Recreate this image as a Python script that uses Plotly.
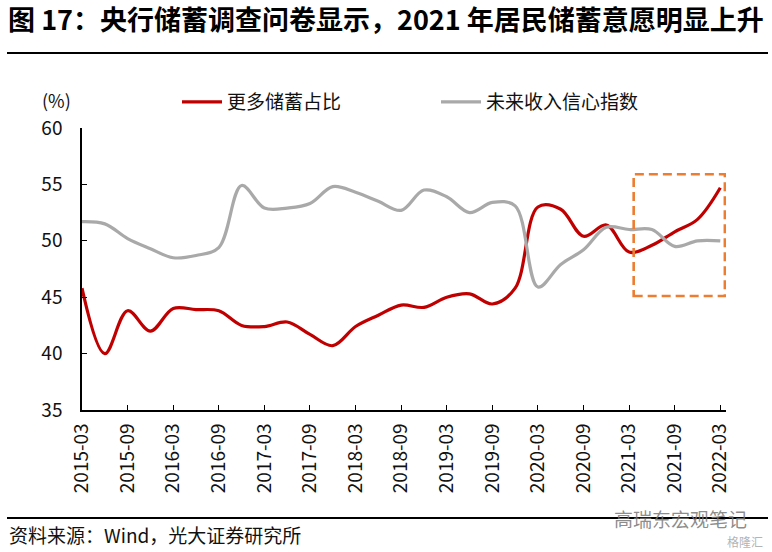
import plotly.graph_objects as go

# ---- data ----
quarters = ["2015-03", "2015-06", "2015-09", "2015-12",
            "2016-03", "2016-06", "2016-09", "2016-12",
            "2017-03", "2017-06", "2017-09", "2017-12",
            "2018-03", "2018-06", "2018-09", "2018-12",
            "2019-03", "2019-06", "2019-09", "2019-12",
            "2020-03", "2020-06", "2020-09", "2020-12",
            "2021-03", "2021-06", "2021-09", "2021-12",
            "2022-03"]
more_saving = [45.8, 40.0, 43.8, 42.0, 44.0, 43.9, 43.8, 42.5, 42.4, 42.8,
               41.7, 40.7, 42.4, 43.4, 44.3, 44.1, 45.0, 45.3, 44.4, 45.8,
               53.0, 52.8, 50.4, 51.4, 49.0, 49.6, 50.8, 51.9, 54.7]
income_conf = [51.7, 51.5, 50.2, 49.3, 48.5, 48.7, 49.4, 54.9, 52.9, 52.9,
               53.3, 54.8, 54.3, 53.5, 52.7, 54.5, 53.9, 52.5, 53.4, 53.1,
               45.9, 47.9, 49.2, 51.2, 51.0, 51.0, 49.5, 50.0, 50.0]
tick_labels = quarters[::2]
y_ticks = [35, 40, 45, 50, 55, 60]
highlight_x = [24.2, 28.2]
highlight_y = [45.1, 55.9]

series_names = ["更多储蓄占比", "未来收入信心指数"]
title_text = "图 17：央行储蓄调查问卷显示，2021 年居民储蓄意愿明显上升"
source_text = "资料来源：Wind，光大证券研究所"
unit_text = "(%)"
watermark_text = "高瑞东宏观笔记"

FONT = "Noto Sans CJK SC"
idx = list(range(len(quarters)))

fig = go.Figure()
fig.add_trace(go.Scatter(x=idx, y=more_saving, name=series_names[0], mode="lines",
                         line=dict(color="#C00000", width=3.2, shape="spline", smoothing=1.0)))
fig.add_trace(go.Scatter(x=idx, y=income_conf, name=series_names[1], mode="lines",
                         line=dict(color="#A9A9A9", width=3.2, shape="spline", smoothing=1.0)))

W, H = 772, 552
L, R, T, B = 82, 46, 128, 142
pw, ph = W - L - R, H - T - B


def px(xp):
    return (xp - L) / pw


def py(yp):
    return (H - B - yp) / ph


fig.update_layout(
    width=W, height=H,
    margin=dict(l=L, r=R, t=T, b=B, autoexpand=False),
    paper_bgcolor="white", plot_bgcolor="white",
    font=dict(family=FONT, size=19, color="#111"),
    showlegend=True,
    legend=dict(orientation="h", xref="container", yref="container",
                x=177 / W, y=1 - 102 / H, xanchor="left", yanchor="middle",
                font=dict(size=19, family=FONT, color="#111"),
                entrywidth=204, entrywidthmode="pixels", itemwidth=40,
                bgcolor="rgba(0,0,0,0)"),
    title=dict(text="<b>" + title_text + "</b>", xref="container", yref="container",
               x=8 / W, y=1 - 21 / H, xanchor="left", yanchor="middle",
               font=dict(size=27, family=FONT, color="#000")),
)

fig.update_xaxes(range=[0, 28.25], tickmode="array", tickvals=idx[::2], ticktext=tick_labels,
                 tickangle=-90, showline=True, linecolor="#000", linewidth=1.5,
                 ticks="inside", ticklen=5, tickwidth=1.3, tickcolor="#000",
                 showgrid=False, zeroline=False, ticklabelstandoff=4, automargin=False,
                 tickfont=dict(size=19, family=FONT, color="#111"))
fig.update_yaxes(range=[35, 60], tickmode="array", tickvals=y_ticks,
                 showline=True, linecolor="#000", linewidth=1.5,
                 ticks="inside", ticklen=5, tickwidth=1.3, tickcolor="#000",
                 showgrid=False, zeroline=False, ticklabelstandoff=14, automargin=False,
                 tickfont=dict(size=19, family=FONT, color="#111"))

# highlight box
fig.add_shape(type="rect", xref="x", yref="y",
              x0=highlight_x[0], x1=highlight_x[1], y0=highlight_y[0], y1=highlight_y[1],
              line=dict(color="#ED7D31", width=2.6, dash="9px,5px"), layer="above")

# title rule and bottom rule
fig.add_shape(type="line", xref="paper", yref="paper", x0=px(7), x1=px(768),
              y0=py(53), y1=py(53), line=dict(color="#000", width=2))
fig.add_shape(type="line", xref="paper", yref="paper", x0=px(7), x1=px(768),
              y0=py(518), y1=py(518), line=dict(color="#000", width=2))

fig.add_annotation(text=unit_text, xref="paper", yref="paper", x=px(56), y=py(100),
                   showarrow=False, xanchor="center", yanchor="middle",
                   font=dict(size=18, family=FONT, color="#111"))
fig.add_annotation(text=source_text, xref="paper", yref="paper", x=px(7), y=py(534),
                   showarrow=False, xanchor="left", yanchor="middle",
                   font=dict(size=19, family=FONT, color="#111"))
fig.add_annotation(text=watermark_text, xref="paper", yref="paper", x=px(680), y=py(518),
                   showarrow=False, xanchor="center", yanchor="middle",
                   font=dict(size=19, family=FONT, color="rgba(120,120,120,0.85)"))
fig.add_annotation(text="格隆汇", xref="paper", yref="paper", x=px(745), y=py(541),
                   showarrow=False, xanchor="center", yanchor="middle",
                   font=dict(size=12, family=FONT, color="rgba(160,160,160,0.8)"))

fig.write_html("out.html", config={"displayModeBar": False},
               post_script="document.body.style.margin='0';document.body.style.padding='0';")
